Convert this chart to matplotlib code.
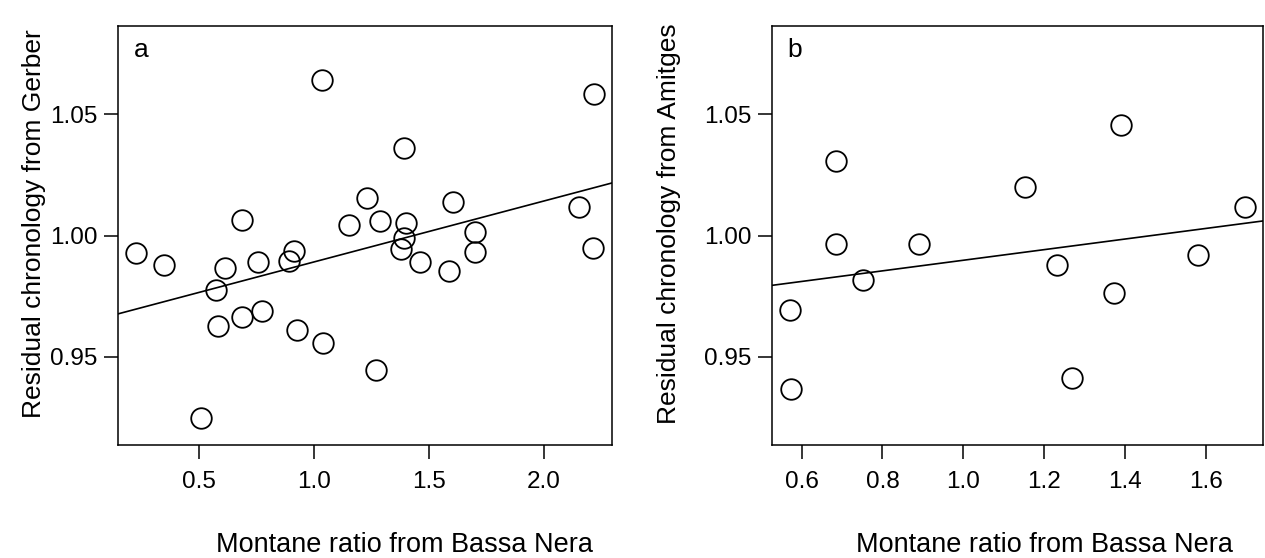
import numpy as np
import matplotlib
matplotlib.use("Agg")
import matplotlib.pyplot as plt

plt.rcParams['font.family'] = ['Liberation Sans', 'DejaVu Sans']

# Panel a data (Gerber)
xa = [0.226, 0.346, 0.509, 0.575, 0.580, 0.611, 0.686, 0.686, 0.754, 0.772,
      0.892, 0.912, 0.928, 1.035, 1.040, 1.152, 1.232, 1.270, 1.286, 1.393,
      1.377, 1.390, 1.399, 1.462, 1.586, 1.604, 1.699, 1.702, 2.154, 2.218, 2.213]
ya = [0.9929, 0.9880, 0.9249, 0.9776, 0.9625, 0.9865, 1.0065, 0.9662, 0.9892, 0.9687,
      0.9895, 0.9936, 0.9610, 1.0641, 0.9555, 1.0043, 1.0156, 0.9444, 1.0058, 1.0362,
      0.9944, 0.9988, 1.0050, 0.9892, 0.9855, 1.0140, 1.0015, 0.9932, 1.0117, 1.0582, 0.9948]
line_a = (0.964, 0.0251)  # intercept, slope

# Panel b data (Amitges)
xb = [0.572, 0.575, 0.686, 0.686, 0.752, 0.889, 1.151, 1.231, 1.268, 1.372, 1.389, 1.580, 1.695]
yb = [0.9691, 0.9369, 1.0307, 0.9966, 0.9815, 0.9964, 1.0200, 0.9877, 0.9412, 0.9761,
      1.0455, 0.9921, 1.0117]
line_b = (0.9679, 0.0219)

xticks_a = [0.5, 1.0, 1.5, 2.0]
xticks_b = [0.6, 0.8, 1.0, 1.2, 1.4, 1.6]
yticks = [0.95, 1.00, 1.05]
ylim = (0.92, 1.08)

ylab_a = "Residual chronology from Gerber"
ylab_b = "Residual chronology from Amitges"
xlab = "Montane ratio from Bassa Nera"

W, H = 1265, 558
fig = plt.figure(figsize=(W / 100, H / 100), dpi=100)

def r_lim(lo, hi):
    d = (hi - lo) * 0.04
    return lo - d, hi + d

def make_panel(left_px, right_px, x, y, line, xticks, xfmt, ylab, letter, ylab_x, xlab_x):
    top_px, bot_px = 26, 445
    wpx, hpx = right_px - left_px, bot_px - top_px
    ax = fig.add_axes([left_px / W, 1 - bot_px / H, wpx / W, hpx / H])
    xl = r_lim(min(x), max(x))
    ax.set_xlim(*xl)
    ax.set_ylim(*r_lim(*ylim))
    ax.plot(x, y, linestyle='none', marker='o', ms=14.8, mfc='none', mec='black', mew=1.3)
    xx = np.array(xl)
    ax.plot(xx, line[0] + line[1] * xx, color='black', lw=1.2)
    ax.set_xticks(xticks)
    ax.set_xticklabels([xfmt.format(v) for v in xticks])
    ax.set_yticks(yticks)
    ax.set_yticklabels(["{:.2f}".format(v) for v in yticks])
    ax.tick_params(axis='both', direction='out', length=10, width=1.1, labelsize=17.5, color='black')
    ax.tick_params(axis='x', pad=8.5)
    ax.tick_params(axis='y', pad=5)
    for s in ax.spines.values():
        s.set_linewidth(1.1)
    ax.set_xlabel(xlab, fontsize=19.5)
    ax.xaxis.set_label_coords((xlab_x - left_px) / wpx, (bot_px - 545) / hpx)
    ax.xaxis.label.set_va('center')
    ax.set_ylabel(ylab, fontsize=19)
    ax.yaxis.set_label_coords((ylab_x - left_px) / wpx, (bot_px - 224) / hpx)
    ax.yaxis.label.set_va('center')
    ax.text(23 / wpx, 1 - 24 / hpx, letter, transform=ax.transAxes,
            fontsize=19, ha='center', va='center')
    return ax

make_panel(118, 612, xa, ya, line_a, xticks_a, "{:.1f}", ylab_a, 'a', 34, 404)
make_panel(772, 1263, xb, yb, line_b, xticks_b, "{:.1f}", ylab_b, 'b', 669, 1045)

fig.savefig("out.png", dpi=100)
